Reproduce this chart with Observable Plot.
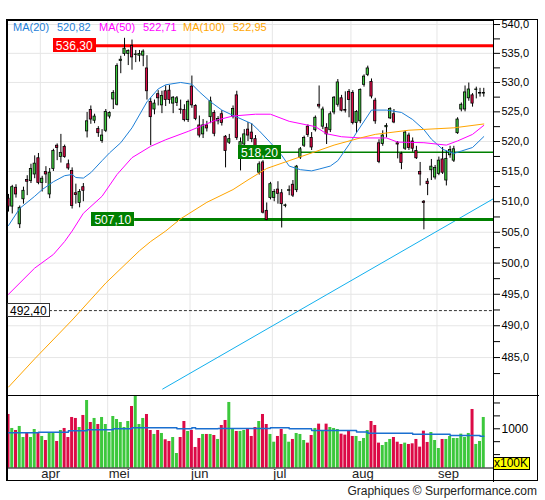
<!DOCTYPE html>
<html><head><meta charset="utf-8">
<script src="https://cdn.jsdelivr.net/npm/d3@7"></script>
<script src="https://cdn.jsdelivr.net/npm/@observablehq/plot@0.6"></script>
<style>
html,body{margin:0;padding:0;background:#fff;}
#wrap{position:relative;width:545px;height:500px;overflow:hidden;font-family:Arial,"Liberation Sans",sans-serif;}
#wrap > svg{position:absolute;left:0;}
.ov{position:absolute;white-space:nowrap;font-family:Arial,"Liberation Sans",sans-serif;}
</style></head><body>
<div id="wrap"></div>
<script>
// ---- daily candles (trading-day index 0..127) ----
const opens = [510.5,509.2,512.3,506.3,510.4,513.6,513.4,514.5,517.2,513.1,
514.9,511.2,515.4,519.3,517.4,519.1,516.2,515.1,511.4,509.8,
512.4,521.7,525.3,523.5,522.1,520.1,521.8,524.2,527.1,526.2,
533.7,534.9,534.9,536.3,534.7,534.6,534.6,532.4,526.7,525.4,
528.0,526.1,528.5,528.6,526.4,526.5,525.4,525.3,523.6,529.3,
526.0,522.7,521.2,522.7,524.1,524.8,523.4,524.6,520.8,519.8,
524.2,527.8,519.1,519.5,522.0,521.5,520.4,514.8,516.5,508.5,
510.6,510.6,512.0,511.4,509.3,511.8,512.8,511.9,517.3,519.3,
522.5,520.6,521.9,526.2,522.5,522.3,521.9,524.9,526.2,527.3,
525.3,528.4,528.2,523.1,523.4,529.6,531.3,530.1,526.9,519.7,
519.6,522.4,523.9,524.6,519.7,517.9,518.8,521.0,520.0,518.4,
514.9,510.0,513.3,515.2,514.0,514.6,517.0,513.5,517.7,516.8,
521.4,525.4,525.4,527.3,527.8,528.7,528.1,528.1];
const highs = [511.2,512.7,512.8,509.3,512.4,514.3,516.2,517.6,518.0,514.2,
515.8,515.5,518.7,519.6,521.2,519.4,516.9,515.6,512.9,512.0,
513.0,524.9,526.0,524.6,522.5,522.0,525.4,525.0,528.6,533.2,
534.5,537.6,535.6,537.3,535.5,535.5,535.6,534.6,527.3,527.0,
528.6,528.5,529.4,529.5,527.6,527.6,527.0,526.2,527.0,531.1,
526.2,524.3,523.7,523.4,527.5,525.2,524.2,525.2,521.0,521.2,
526.0,528.5,520.6,522.0,523.2,523.0,521.0,516.6,516.8,509.8,
513.2,512.0,513.3,512.0,509.6,512.6,513.5,516.0,519.0,520.9,
522.8,521.5,524.3,529.4,525.8,523.0,525.0,527.6,530.5,527.8,
528.4,528.8,528.6,525.2,528.9,531.3,532.8,530.6,527.3,520.3,
521.8,523.0,525.7,525.4,520.0,518.2,521.8,521.4,520.6,519.2,
516.5,510.2,513.8,517.0,516.0,517.4,519.0,518.4,519.2,519.2,
524.0,526.5,529.4,529.9,528.1,529.2,529.0,529.0];
const lows = [508.3,508.0,510.6,505.6,509.6,511.0,513.0,513.8,512.8,511.6,
513.0,510.5,515.0,516.8,516.4,517.2,515.2,508.8,509.6,509.0,
510.0,520.6,522.9,523.0,520.7,519.7,521.5,523.8,525.4,526.0,
531.5,534.5,532.9,532.1,533.4,533.5,532.7,527.0,519.3,524.5,
526.0,524.7,525.9,526.3,524.7,525.9,524.6,523.3,523.2,525.6,
523.5,520.6,520.5,521.6,523.0,520.8,522.8,522.6,515.6,519.5,
523.8,520.2,515.1,518.6,520.0,519.8,518.0,514.4,508.0,506.9,
510.3,510.0,509.6,505.7,509.0,511.0,510.7,511.5,517.0,519.0,
520.7,518.5,521.6,525.5,522.0,519.5,521.5,524.5,525.8,525.0,
524.8,524.0,522.8,521.4,523.0,529.2,531.0,527.2,522.9,516.3,
519.2,520.6,523.7,523.0,517.1,515.3,518.5,518.5,518.2,517.0,
512.6,505.4,511.0,513.5,513.6,514.3,514.5,512.6,517.2,516.5,
521.2,525.0,525.0,526.8,525.8,527.2,527.5,527.5];
const closes = [509.2,512.4,511.2,509.0,511.8,513.3,515.4,516.3,513.1,513.8,
514.5,514.8,518.4,518.9,518.1,517.4,515.5,509.3,511.1,511.6,
511.8,523.4,523.7,524.2,521.4,521.0,525.0,524.8,528.2,532.8,
533.9,535.8,535.4,534.3,534.8,534.9,535.3,528.5,524.1,526.4,
527.3,527.7,527.0,527.0,527.4,527.3,525.3,523.6,526.7,526.1,
523.8,521.0,522.7,522.2,526.8,521.3,523.8,523.1,518.4,520.4,
525.5,520.6,519.9,521.2,521.0,520.4,518.7,516.2,508.2,507.0,
512.9,511.6,511.3,509.6,509.4,511.9,511.0,515.8,518.7,520.6,
521.1,519.0,524.0,525.9,525.4,521.2,524.6,527.4,530.0,525.2,
525.2,527.0,523.1,525.0,528.7,531.0,532.4,527.6,523.4,516.6,
521.0,522.6,525.5,523.2,519.5,516.4,521.5,518.9,518.8,517.2,
514.5,509.8,512.9,515.8,515.6,516.8,514.8,517.1,518.6,518.7,
523.7,526.2,528.3,528.8,526.4,528.8,528.2,528.2];
// volume, in units of 100K
const volumes = [1277,1006,967,1045,831,928,831,986,909,851,
773,909,928,754,967,1006,831,1219,1200,1025,
1258,1548,1122,1200,1083,1219,1083,928,1238,1180,
1122,1025,1141,1432,1632,1083,1200,1277,967,890,
967,909,787,754,831,521,831,1141,948,967,
638,812,890,890,890,870,793,1064,1161,1510,
986,948,948,967,986,851,1025,1141,1277,1083,
890,740,851,986,890,740,793,909,890,773,
722,870,1006,1090,967,1090,1025,1006,986,896,
877,954,851,851,754,812,967,1141,1064,722,
676,735,793,831,740,696,722,696,709,793,
644,954,735,928,773,618,793,793,851,812,
812,896,831,909,1374,696,754,1219];
// moving averages (index, value)
const ma20Idx = [0,3,7,9,12,15,17,18,20,22,25,27,30,33,37,40,42,46,49,51,54,57,60,65,67,70,73,75,78,81,83,86,88,91,93,97,101,105,108,111,113,116,119,121,124,127];
const ma20Val = [506.1,508.9,510.9,512.0,513.3,514.3,514.5,514.0,513.9,514.8,516.8,518.1,519.8,522.3,526.7,528.9,529.6,530.0,529.7,528.4,526.7,525.3,524.4,523.0,521.8,519.8,517.7,515.9,515.3,515.1,515.4,515.9,516.8,519.5,521.5,525.3,525.3,524.9,523.7,522.0,520.4,518.7,518.0,518.4,519.0,520.82];
const ma50Idx = [0,7,12,15,17,20,25,29,33,38,42,48,55,60,66,70,75,82,85,89,94,101,104,111,117,120,124,127];
const ma50Val = [495.0,499.2,501.4,503.5,505.2,508.1,510.9,514.5,517.3,519.2,520.3,521.7,523.5,524.3,524.6,524.6,523.4,522.5,521.3,520.8,520.6,520.6,519.9,519.8,519.4,520.1,521.2,522.71];
const ma100Idx = [0,7,17,26,35,38,42,46,53,60,64,69,75,82,87,94,98,107,119,127];
const ma100Val = [480.4,484.8,490.9,496.8,502.0,503.5,505.2,507.2,509.9,512.0,513.6,515.5,516.8,518.3,519.4,520.6,521.2,521.9,522.3,522.95];
const volMaIdx = [0,8,16,21,28,33,45,49,50,56,70,75,81,93,96,108,118,126,127];
const volMaVal = [922,932,961,981,1000,1019,1000,1019,1000,1006,1019,1000,967,940,915,895,870,857,857];
// trend line anchors and horizontal levels
const trendIdx = [41.2, 129.6];
const trendVal = [480.1, 510.5];
const levelValues = [536.3, 518.2, 507.1, 492.4];
const levelFrom = [23.4, 72.9, 33.7, 9.6];
// legend
const maNames = ["MA(20)", "MA(50)", "MA(100)"];
const maLast = [520.82, 522.71, 522.95];
// axes
const monthNames = ["apr","mei","jun","jul","aug","sep"];
const monthStart = [9,27,49,71,92,115];
const priceTicks = [485,490,495,500,505,510,515,520,525,530,535,540];
const priceMinor = [482.5,487.5,492.5,497.5,502.5,507.5,512.5,517.5,522.5,527.5,532.5,537.5];
const volTicks = [500,750,1000,1250,1500];
const volLabel = 1000;
const volUnit = "x100K";
const footer = "Graphiques © Surperformance.com";

// ---- styles ----
const GREEN = "#3cc83c", RED = "#dc0a46", GRID = "#e6e6e6";
const MA_COLORS = ["#1e80d8", "#ff00ff", "#ffa500"];
const TREND = "#12b0ee";
const levelStyle = [
  {stroke:"#ff0000", w:3, bg:"#ff0000", fg:"#fff", border:"#ff0000"},
  {stroke:"#008000", w:1.5, bg:"#008000", fg:"#fff", border:"#008000"},
  {stroke:"#008000", w:3, bg:"#008000", fg:"#fff", border:"#008000"},
  {stroke:"#333", w:1, dash:"3,2", bg:"#fff", fg:"#000", border:"#333"}
];
const X = [-0.27, 129.6];
const comma = (v, n) => v.toFixed(n).replace(".", ",");

const days = opens.map((o, i) => ({i, o, h: highs[i], l: lows[i], c: closes[i], v: volumes[i], up: closes[i] >= o}));
const pts = (idx, val) => idx.map((d, k) => ({i: d, v: val[k]}));
const mas = [pts(ma20Idx, ma20Val), pts(ma50Idx, ma50Val), pts(ma100Idx, ma100Val)];
const levels = levelValues.map((v, k) => ({v, from: levelFrom[k], k}));

const wrap = document.getElementById("wrap");

const price = Plot.plot({
  width: 545, height: 395,
  marginLeft: 7, marginRight: 52, marginTop: 20, marginBottom: 0,
  style: {fontFamily: "Arial, 'Liberation Sans', sans-serif", fontSize: "11px", background: "transparent", overflow: "visible"},
  x: {domain: X, axis: null},
  y: {type: "log", domain: [479.1, 540.7], axis: null},
  color: {type: "identity"},
  marks: [
    Plot.gridY(priceTicks, {stroke: GRID, strokeOpacity: 1}),
    Plot.ruleX(monthStart, {x: d => d - 0.5, stroke: GRID}),
    Plot.line(pts(trendIdx, trendVal), {x: "i", y: "v", stroke: TREND, strokeWidth: 1, clip: true}),
    ...levels.map(L => Plot.ruleY([L], {y: "v", x1: "from", x2: X[1], stroke: levelStyle[L.k].stroke, strokeWidth: levelStyle[L.k].w, strokeDasharray: levelStyle[L.k].dash})),
    Plot.ruleX(days, {x: "i", y1: "l", y2: "h", stroke: "#000", strokeWidth: 1}),
    Plot.rect(days, {x1: d => d.i - 0.3, x2: d => d.i + 0.3, y1: "o", y2: "c", fill: d => d.up ? GREEN : RED, stroke: "#000", strokeWidth: 0.8}),
    ...mas.map((m, k) => Plot.line(m, {x: "i", y: "v", stroke: MA_COLORS[k], strokeWidth: 1})),
    Plot.axisY(priceMinor, {anchor: "right", tickSize: 6, tickFormat: () => "", label: null, color: "#000"}),
    Plot.axisY(priceTicks, {anchor: "right", tickSize: 6, tickPadding: 2, tickFormat: d => comma(d, 1), label: null, color: "#000", fontSize: 11}),
    Plot.frame({stroke: "#000"})
  ]
});
price.style.top = "0px";
wrap.appendChild(price);

const vol = Plot.plot({
  width: 545, height: 87,
  marginLeft: 7, marginRight: 52, marginTop: 0, marginBottom: 14.5,
  style: {fontFamily: "Arial, 'Liberation Sans', sans-serif", fontSize: "12px", background: "transparent", overflow: "visible"},
  x: {domain: X, axis: null},
  y: {domain: [240, 1645], axis: null},
  color: {type: "identity"},
  marks: [
    Plot.ruleX(monthStart, {x: d => d - 0.5, stroke: GRID}),
    Plot.rectY(days, {x1: d => d.i - 0.4, x2: d => d.i + 0.4, y: "v", fill: d => d.up ? GREEN : RED, clip: true}),
    Plot.line(pts(volMaIdx, volMaVal), {x: "i", y: "v", stroke: "#1a6fd0", strokeWidth: 1.5, curve: "step-after"}),
    Plot.axisY(volTicks, {anchor: "right", tickSize: 6, tickPadding: 2, tickFormat: d => d === volLabel ? String(d) : "", label: null, color: "#000", fontSize: 12}),
    Plot.text(monthStart, {x: d => d - 0.5, frameAnchor: "bottom", lineAnchor: "bottom", dy: 9.5, dx: 1, textAnchor: "start", text: (d, k) => monthNames[k], fill: "#222", fontSize: 13}),
    Plot.frame({stroke: "#000"})
  ]
});
vol.style.top = "395px";
wrap.appendChild(vol);

// ---- overlays: outer box, level labels, legend, unit, footer ----
function div(css, html) { const e = document.createElement("div"); e.className = "ov"; e.style.cssText = css; if (html != null) e.textContent = html; wrap.appendChild(e); return e; }
div("left:6px;top:19px;width:532px;height:462px;border:1px solid #000;border-left:2px solid #000;box-sizing:border-box;");
div("left:493px;top:467px;width:1px;height:15px;background:#000;");
div("left:493px;top:395px;width:46px;height:1px;background:#000;");

const sx = price.scale("x"), sy = price.scale("y");
levels.forEach(L => {
  const st = levelStyle[L.k];
  const right = sx.apply(L.from), cy = sy.apply(L.v);
  const e = div(`top:${cy - 7}px;height:14px;line-height:14px;font-size:12px;padding:0 2px;background:${st.bg};color:${st.fg};border:1px solid ${st.border};box-sizing:border-box;`, comma(L.v, 2));
  const w = e.getBoundingClientRect().width;
  e.style.left = Math.max(7, right - w) + "px";
});

const legendX = [[13, 57], [99, 143], [183, 233]];
maNames.forEach((n, k) => {
  div(`left:${legendX[k][0]}px;top:21px;font-size:11px;line-height:12px;color:${MA_COLORS[k]};`, n);
  div(`left:${legendX[k][1]}px;top:21px;font-size:11px;line-height:12px;color:${MA_COLORS[k]};`, comma(maLast[k], 2));
});

div("left:494px;top:457px;width:35px;height:11px;line-height:11px;font-size:12px;background:#ffff00;border:1px solid #000;border-left:none;color:#000;box-sizing:content-box;padding:0;", volUnit);
div("right:8px;top:484px;font-size:12px;color:#222;", footer);
</script>
</body></html>
